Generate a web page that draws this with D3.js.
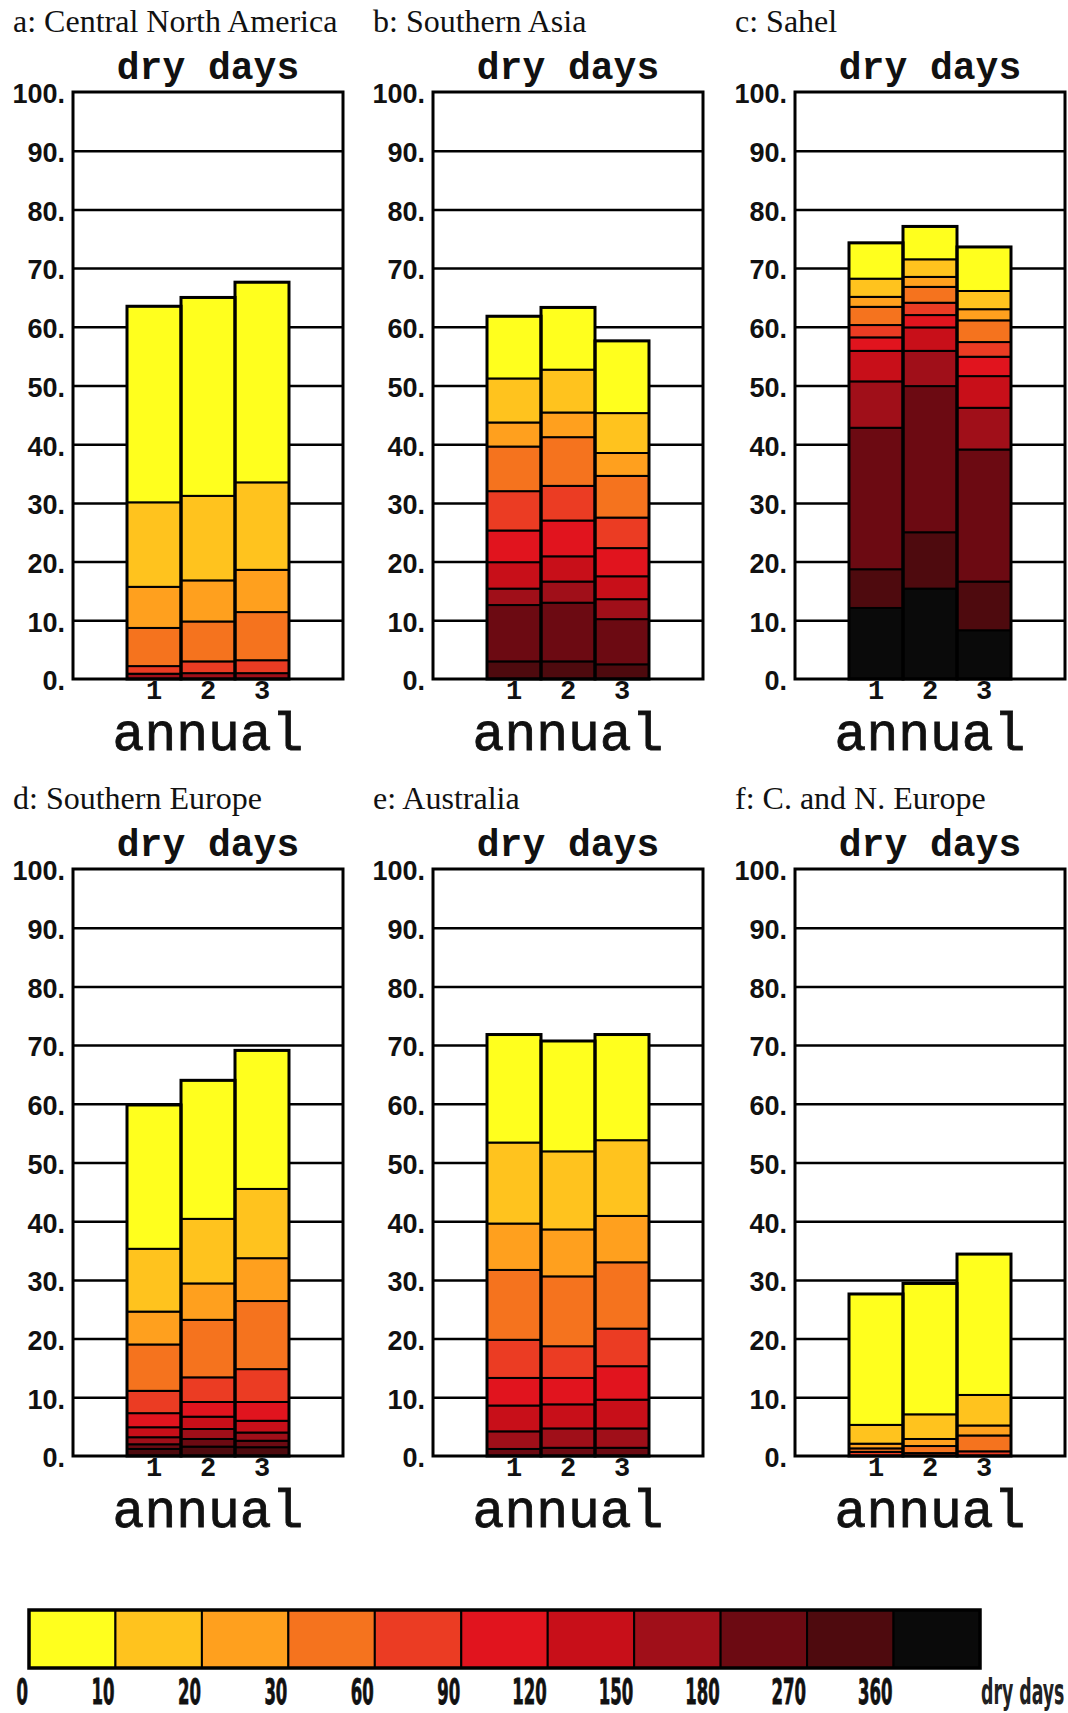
<!DOCTYPE html>
<html><head><meta charset="utf-8">
<script src="https://cdn.jsdelivr.net/npm/d3@7/dist/d3.min.js"></script>
<style>body{margin:0;background:#fff}svg{display:block}</style>
</head><body>
<svg id="chart" width="1068" height="1713"></svg>
<script>
// ---------- data ----------
const classLabels = ["0","10","20","30","60","90","120","150","180","270","360"];
const classColors = ["#ffff1e","#ffc31e","#ffa01e","#f5731e","#eb3c23","#e1141e","#c80f19","#a00f19","#6c0a12","#4e0a0e","#0a0a0a"];
const runs = ["1","2","3"];
const yTicks = [0,10,20,30,40,50,60,70,80,90,100];
const panelTitles = ["a: Central North America","b: Southern Asia","c: Sahel","d: Southern Europe","e: Australia","f: C. and N. Europe"];
const axisTitle = "dry days";
const xTitle = "annual";
const legendUnit = "dry days";

// % of dry days per dry-spell class (0-10, 10-20, 20-30, 30-60, 60-90, 90-120, 120-150, 150-180, 180-270, 270-360, >360), per run
const centralNorthAmerica = [
  [33.4,14.4,7.0,6.5,1.3,0,0,0.9,0,0,0],
  [33.8,14.4,7.0,6.8,2.0,0,0,1.0,0,0,0],
  [34.1,14.9,7.2,8.2,2.2,0,0,1.0,0,0,0]
];
const southernAsia = [
  [10.6,7.5,4.1,7.6,6.7,5.4,4.5,2.8,9.6,3.0,0],
  [10.6,7.3,4.2,8.3,5.9,6.1,4.3,3.6,10.0,3.0,0],
  [12.3,6.8,3.9,7.1,5.2,4.8,3.9,3.4,7.7,2.5,0]
];
const sahel = [
  [6.1,3.1,1.7,3.1,2.1,2.3,5.2,7.9,24.1,6.6,12.1],
  [5.6,3.0,1.7,2.7,2.1,2.1,4.0,6.0,24.9,9.6,15.4],
  [7.5,3.1,1.9,3.7,2.5,3.3,5.4,7.1,22.5,8.3,8.3]
];
const southernEurope = [
  [24.5,10.7,5.6,7.9,3.8,2.4,1.7,1.2,0.8,1.2,0],
  [23.6,11.0,6.2,9.8,4.2,2.5,2.1,1.7,1.3,1.6,0],
  [23.6,11.8,7.3,11.6,5.6,3.2,2.0,1.4,1.1,1.5,0]
];
const australia = [
  [18.4,13.8,7.9,11.9,6.5,4.7,4.4,3.0,1.2,0,0],
  [18.8,13.3,8.0,11.9,5.4,4.5,4.1,3.3,1.4,0,0],
  [18.0,12.9,7.9,11.3,6.4,5.7,4.9,3.3,1.4,0,0]
];
const centralNorthernEurope = [
  [22.3,3.2,0.8,0.6,0.7,0,0,0,0,0,0],
  [22.3,4.2,1.2,1.2,0.5,0,0,0,0,0,0],
  [24.0,5.2,1.7,2.7,0.8,0,0,0,0,0,0]
];
const panelData = [centralNorthAmerica, southernAsia, sahel, southernEurope, australia, centralNorthernEurope];

// ---------- layout ----------
const colX = [73, 433, 795];
const rowTop = [92, 869];
const frameW = 270;
const frameH = 587;

const svg = d3.select("#chart");
svg.append("rect").attr("width",1068).attr("height",1713).attr("fill","#fff");

const keys = d3.range(10, -1, -1); // bottom: longest spells, top: shortest

panelData.forEach((pdata, i) => {
  const left = colX[i % 3], top = rowTop[Math.floor(i / 3)];
  const g = svg.append("g");
  const y = d3.scaleLinear().domain([0, 100]).range([top + frameH, top]);
  const band = frameW / 5;
  const x = d3.scaleBand().domain(runs).range([left + band, left + frameW - band]).padding(0);

  // title
  g.append("text").attr("x", left - 60).attr("y", top - 60)
    .attr("font-family", "'Liberation Serif','Times New Roman',serif")
    .attr("font-size", 32).attr("fill", "#111").text(panelTitles[i]);
  g.append("text").attr("x", left + frameW / 2).attr("y", top - 13)
    .attr("text-anchor", "middle")
    .attr("font-family", "'Liberation Mono','Courier New',monospace")
    .attr("font-weight", "bold").attr("font-size", 38).attr("fill", "#111").text(axisTitle);

  // frame background
  g.append("rect").attr("x", left).attr("y", top).attr("width", frameW).attr("height", frameH).attr("fill", "#fff");

  // gridlines
  const grid = g.append("g").attr("transform", `translate(${left},0)`)
    .call(d3.axisLeft(y).tickValues(yTicks.filter(d => d > 0 && d < 100)).tickSize(-frameW).tickFormat(""));
  grid.select(".domain").remove();
  grid.selectAll(".tick line").attr("stroke", "#000").attr("stroke-width", 2.5);

  // y labels
  const ya = g.append("g").attr("transform", `translate(${left - 2},0)`)
    .call(d3.axisLeft(y).tickValues(yTicks).tickSize(0).tickPadding(6).tickFormat(d => d + "."));
  ya.select(".domain").remove();
  ya.selectAll("text").attr("font-family", "'Liberation Sans',Arial,sans-serif")
    .attr("font-weight", "bold").attr("font-size", 27).attr("fill", "#111")
    .attr("dy", "0.4em");

  // stacked bars
  const rows = pdata.map((vals, r) => {
    const o = { run: runs[r] };
    vals.forEach((v, k) => o[k] = v);
    return o;
  });
  const series = d3.stack().keys(keys)(rows);
  series.forEach(s => {
    const k = s.key;
    g.append("g").selectAll("rect").data(s.filter(d => d[1] - d[0] > 0)).join("rect")
      .attr("x", d => x(d.data.run))
      .attr("width", x.bandwidth())
      .attr("y", d => y(d[1]))
      .attr("height", d => y(d[0]) - y(d[1]))
      .attr("fill", classColors[k])
      .attr("stroke", "#000").attr("stroke-width", 2);
  });
  // bar outlines
  g.append("g").selectAll("rect").data(rows).join("rect")
    .attr("x", d => x(d.run)).attr("width", x.bandwidth())
    .attr("y", d => y(d3.sum(keys, k => d[k])))
    .attr("height", d => y(0) - y(d3.sum(keys, k => d[k])))
    .attr("fill", "none").attr("stroke", "#000").attr("stroke-width", 3);

  // frame
  g.append("rect").attr("x", left).attr("y", top).attr("width", frameW).attr("height", frameH)
    .attr("fill", "none").attr("stroke", "#000").attr("stroke-width", 3);

  // x labels
  const xa = g.append("g").attr("transform", `translate(0,${top + frameH})`)
    .call(d3.axisBottom(x).tickSize(0).tickPadding(0));
  xa.select(".domain").remove();
  xa.selectAll("text").attr("font-family", "'Liberation Mono','Courier New',monospace")
    .attr("font-weight", "bold").attr("font-size", 27).attr("fill", "#111")
    .attr("dy", null).attr("y", 20);

  g.append("text").attr("x", left + frameW / 2).attr("y", top + frameH + 71)
    .attr("text-anchor", "middle")
    .attr("font-family", "'Liberation Mono','Courier New',monospace")
    .attr("font-size", 53).attr("fill", "#111").attr("stroke", "#111").attr("stroke-width", 0.8)
    .text(xTitle);
});

// ---------- legend ----------
const legX0 = 29, legX1 = 980, legTop = 1610, legH = 58;
const lx = d3.scaleBand().domain(d3.range(classColors.length)).range([legX0, legX1]).padding(0);
const leg = svg.append("g");
leg.selectAll("rect.cell").data(classColors).join("rect").attr("class", "cell")
  .attr("x", (d, i) => lx(i)).attr("width", lx.bandwidth())
  .attr("y", legTop).attr("height", legH)
  .attr("fill", d => d).attr("stroke", "#000").attr("stroke-width", 2);
leg.append("rect").attr("x", legX0).attr("y", legTop).attr("width", legX1 - legX0).attr("height", legH)
  .attr("fill", "none").attr("stroke", "#000").attr("stroke-width", 3.5);

const legFont = "'Liberation Sans Narrow','DejaVu Sans Condensed','Liberation Sans',sans-serif";
const probe = svg.append("text").attr("font-family", legFont).attr("font-weight", "bold").attr("font-size", 36).text("0");
const digitW = probe.node().getComputedTextLength();
probe.remove();
const sx = 11.5 / digitW;
const labBase = 1704;
leg.selectAll("text.lab").data(classLabels).join("text").attr("class", "lab")
  .attr("transform", (d, i) => `translate(${lx(i) - 1},${labBase}) scale(${sx},1)`)
  .attr("text-anchor", "end")
  .attr("font-family", legFont).attr("font-weight", "bold").attr("font-size", 36).attr("fill", "#111")
  .attr("stroke", "#111").attr("stroke-width", 0.8)
  .text(d => d);
leg.append("text")
  .attr("transform", `translate(${legX1 + 1},${labBase}) scale(${sx * 1.05},1)`)
  .attr("font-family", legFont).attr("font-weight", "bold").attr("font-size", 36).attr("fill", "#222")
  .text(legendUnit);
</script>
</body></html>
